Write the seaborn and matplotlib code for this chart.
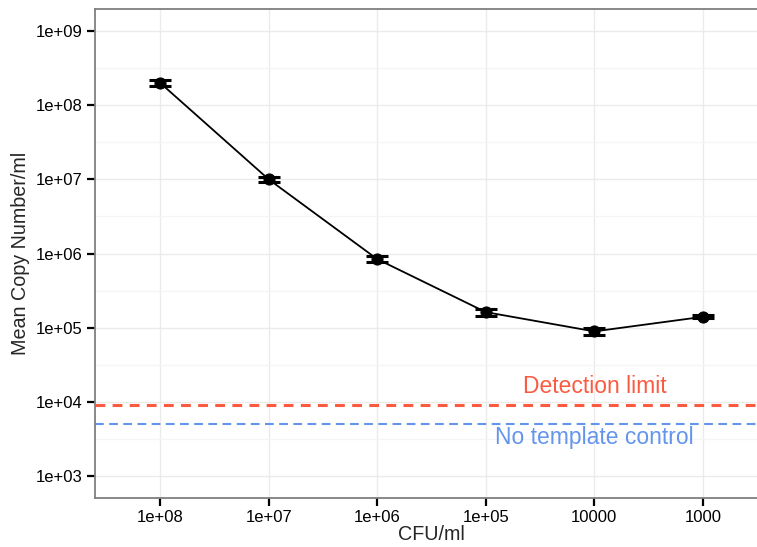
import numpy as np
import pandas as pd
import matplotlib
matplotlib.use("Agg")
import matplotlib.pyplot as plt
import seaborn as sns
from matplotlib.ticker import FixedLocator, NullFormatter

# data
cfu_labels = ["1e+08", "1e+07", "1e+06", "1e+05", "10000", "1000"]
mean_copies = [2.0e8, 1.0e7, 8.4e5, 1.62e5, 8.9e4, 1.4e5]
sd_copies = [1.7e7, 9.0e5, 8.0e4, 1.7e4, 9.5e3, 6.0e3]
detection_limit = 9000
no_template = 5000

y_ticks = [1e3, 1e4, 1e5, 1e6, 1e7, 1e8, 1e9]
y_tick_labels = ["1e+03", "1e+04", "1e+05", "1e+06", "1e+07", "1e+08", "1e+09"]

df = pd.DataFrame({"pos": np.arange(len(cfu_labels)), "cfu": cfu_labels,
                   "mean": mean_copies, "sd": sd_copies})

sns.set_style("white")
plt.rcParams['font.family'] = ['Liberation Sans', 'DejaVu Sans']

fig = plt.figure(figsize=(7.57, 5.47), dpi=100)
ax = fig.add_axes([95/757, 1 - 498/547, (768 - 95)/757, (498 - 9)/547])

ax.set_yscale('log')
ax.set_ylim(10**2.703, 10**9.297)
ax.set_xlim(-0.6, 5.6)

# grid
minor = [10**(k + 0.5) for k in range(2, 10)]
ax.yaxis.set_major_locator(FixedLocator(y_ticks))
ax.yaxis.set_minor_locator(FixedLocator(minor))
ax.yaxis.set_minor_formatter(NullFormatter())
ax.set_yticklabels(y_tick_labels)
ax.set_xticks(df["pos"])
ax.set_xticklabels(cfu_labels)
ax.grid(True, which='major', color='#EBEBEB', linewidth=1.0, zorder=0)
ax.grid(True, which='minor', axis='y', color='#F5F5F5', linewidth=1.0, zorder=0)
ax.set_axisbelow(True)

ax.axhline(detection_limit, color='#FA5B40', linestyle=(0, (3.2, 2.4)), linewidth=2.2, zorder=2)
ax.axhline(no_template, color='#6495ED', linestyle=(0, (4.2, 2.6)), linewidth=1.5, zorder=2)

ax.errorbar(df["pos"], df["mean"], yerr=df["sd"], fmt='none', ecolor='black',
            elinewidth=2.0, capsize=8, capthick=2.2, zorder=3)
sns.lineplot(data=df, x="pos", y="mean", color='black', linewidth=1.3,
             marker='o', markersize=8, markeredgecolor='black', ax=ax, zorder=4)

ax.text(4, 1.6e4, "Detection limit", color='#FA5B40', fontsize=16.5, ha='center', va='center')
ax.text(4, 3.35e3, "No template control", color='#6495ED', fontsize=16.5, ha='center', va='center')

for s in ax.spines.values():
    s.set_color('#7F7F7F')
    s.set_linewidth(1.3)
ax.tick_params(axis='both', which='major', length=6, width=1.6, color='black',
               labelsize=12, labelcolor='black', pad=3, left=True, bottom=True)
ax.tick_params(axis='y', which='minor', length=0)

ax.set_xlabel("CFU/ml", fontsize=14.2, labelpad=0)
ax.set_ylabel("Mean Copy Number/ml", fontsize=14.2, labelpad=4)

fig.savefig("out.png", dpi=100)
